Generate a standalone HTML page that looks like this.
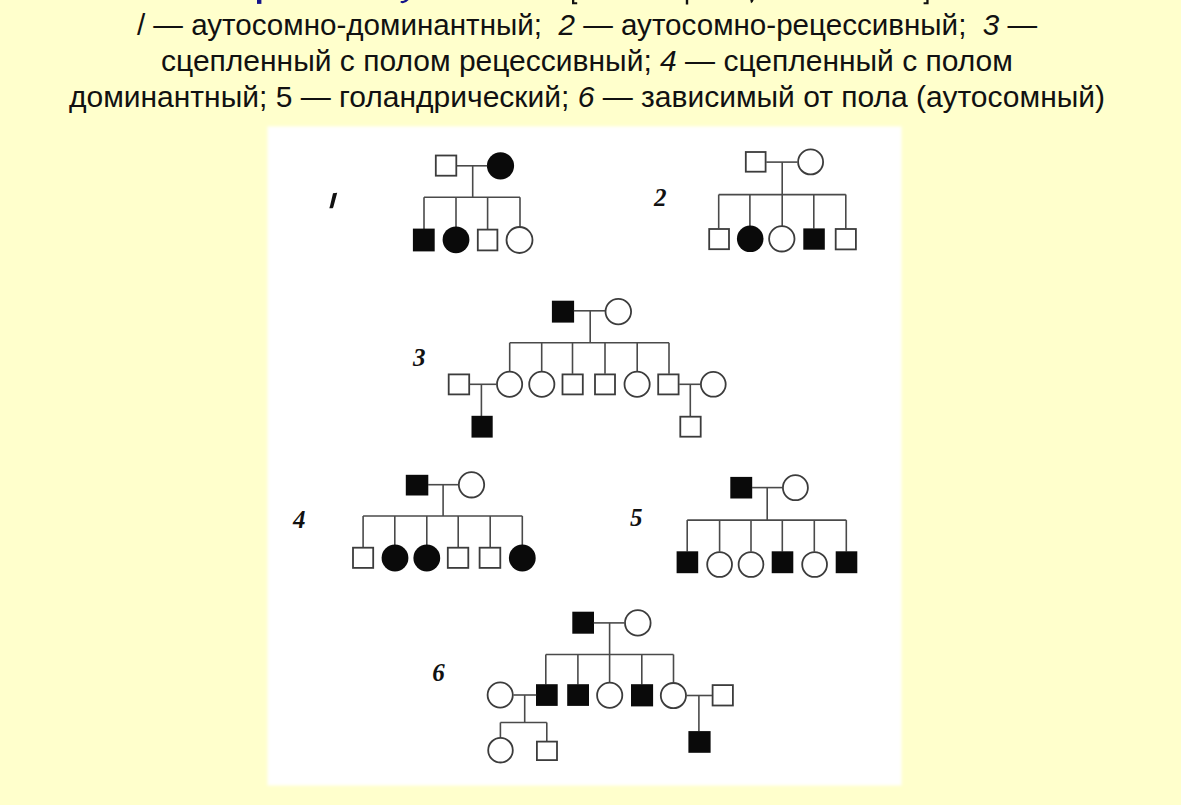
<!DOCTYPE html>
<html><head><meta charset="utf-8"><style>
html,body{margin:0;padding:0;background:#FFFFCC;width:1181px;height:805px;overflow:hidden}
svg{display:block}
.t{font-family:"Liberation Sans",sans-serif;font-size:30px;fill:#111;white-space:pre}
.i{font-style:italic}
.lab{font-family:"Liberation Serif",serif;font-size:25px;font-weight:bold;font-style:italic;fill:#111}
.blue{font-family:"Liberation Sans",sans-serif;font-size:30px;font-weight:bold;fill:#000099}
</style></head><body>
<svg width="1181" height="805" viewBox="0 0 1181 805">
<rect x="0" y="0" width="1181" height="805" fill="#FFFFCC"/>
<text class="t" xml:space="preserve" x="587" y="34.5" text-anchor="middle" style="font-size:29.6px">/ — аутосомно-доминантный;  <tspan class="i">2</tspan> — аутосомно-рецессивный;  <tspan class="i">3</tspan> —</text>
<text class="t" xml:space="preserve" x="587" y="70.5" text-anchor="middle">сцепленный с полом рецессивный; <tspan class="i">4</tspan> — сцепленный с полом</text>
<text class="t" xml:space="preserve" x="587" y="106.8" text-anchor="middle">доминантный; 5 — голандрический; <tspan class="i">6</tspan> — зависимый от пола (аутосомный)</text>
<defs><filter id="bl" x="-5%" y="-5%" width="110%" height="110%"><feGaussianBlur stdDeviation="1.8"/></filter></defs>
<rect x="267.5" y="126.4" width="634" height="659.1" fill="#ffffff" filter="url(#bl)"/>
<rect x="435.80" y="155.50" width="20.50" height="20.20" fill="none" stroke="#3c3c3c" stroke-width="1.8"/>
<circle cx="500.5" cy="165.8" r="13.60" fill="#0a0a0a"/>
<line x1="456.9" y1="165.8" x2="487.2" y2="165.8" stroke="#4a4a4a" stroke-width="1.6"/>
<line x1="472.7" y1="165.8" x2="472.7" y2="197.3" stroke="#4a4a4a" stroke-width="1.6"/>
<line x1="424.0" y1="197.3" x2="520.0" y2="197.3" stroke="#4a4a4a" stroke-width="1.6"/>
<line x1="424.0" y1="197.3" x2="424.0" y2="229.0" stroke="#4a4a4a" stroke-width="1.6"/>
<line x1="456.0" y1="197.3" x2="456.0" y2="227.0" stroke="#4a4a4a" stroke-width="1.6"/>
<line x1="487.6" y1="197.3" x2="487.6" y2="229.0" stroke="#4a4a4a" stroke-width="1.6"/>
<line x1="520.0" y1="197.3" x2="520.0" y2="227.0" stroke="#4a4a4a" stroke-width="1.6"/>
<rect x="412.9" y="228.6" width="21.8" height="22.8" fill="#0a0a0a"/>
<circle cx="456.0" cy="239.8" r="13.40" fill="#0a0a0a"/>
<rect x="477.80" y="229.60" width="19.60" height="20.80" fill="none" stroke="#3c3c3c" stroke-width="1.8"/>
<circle cx="519.5" cy="240.0" r="13.00" fill="none" stroke="#3c3c3c" stroke-width="1.8"/>
<rect x="745.80" y="152.00" width="19.80" height="19.70" fill="none" stroke="#3c3c3c" stroke-width="1.8"/>
<circle cx="810.6" cy="161.9" r="12.50" fill="none" stroke="#3c3c3c" stroke-width="1.8"/>
<line x1="766.2" y1="162.1" x2="797.5" y2="162.1" stroke="#4a4a4a" stroke-width="1.6"/>
<line x1="782.2" y1="162.1" x2="782.2" y2="194.6" stroke="#4a4a4a" stroke-width="1.6"/>
<line x1="718.7" y1="194.6" x2="845.8" y2="194.6" stroke="#4a4a4a" stroke-width="1.6"/>
<line x1="718.7" y1="194.6" x2="718.7" y2="228.4" stroke="#4a4a4a" stroke-width="1.6"/>
<line x1="749.9" y1="194.6" x2="749.9" y2="226.0" stroke="#4a4a4a" stroke-width="1.6"/>
<line x1="782.2" y1="194.6" x2="782.2" y2="226.0" stroke="#4a4a4a" stroke-width="1.6"/>
<line x1="813.8" y1="194.6" x2="813.8" y2="228.4" stroke="#4a4a4a" stroke-width="1.6"/>
<line x1="845.8" y1="194.6" x2="845.8" y2="228.4" stroke="#4a4a4a" stroke-width="1.6"/>
<rect x="709.20" y="229.00" width="19.80" height="20.20" fill="none" stroke="#3c3c3c" stroke-width="1.8"/>
<circle cx="750.2" cy="238.8" r="13.30" fill="#0a0a0a"/>
<circle cx="781.8" cy="238.8" r="12.70" fill="none" stroke="#3c3c3c" stroke-width="1.8"/>
<rect x="803.3" y="228.4" width="21.5" height="21.3" fill="#0a0a0a"/>
<rect x="835.70" y="229.00" width="20.20" height="20.40" fill="none" stroke="#3c3c3c" stroke-width="1.8"/>
<rect x="551.9" y="300.7" width="22.2" height="21.9" fill="#0a0a0a"/>
<circle cx="618.3" cy="311.6" r="12.80" fill="none" stroke="#3c3c3c" stroke-width="1.8"/>
<line x1="573.8" y1="310.8" x2="605.0" y2="310.8" stroke="#4a4a4a" stroke-width="1.6"/>
<line x1="590.2" y1="310.8" x2="590.2" y2="342.8" stroke="#4a4a4a" stroke-width="1.6"/>
<line x1="509.7" y1="342.8" x2="669.0" y2="342.8" stroke="#4a4a4a" stroke-width="1.6"/>
<line x1="509.7" y1="342.8" x2="509.7" y2="371.2" stroke="#4a4a4a" stroke-width="1.6"/>
<line x1="541.7" y1="342.8" x2="541.7" y2="371.2" stroke="#4a4a4a" stroke-width="1.6"/>
<line x1="572.5" y1="342.8" x2="572.5" y2="373.8" stroke="#4a4a4a" stroke-width="1.6"/>
<line x1="605.0" y1="342.8" x2="605.0" y2="373.8" stroke="#4a4a4a" stroke-width="1.6"/>
<line x1="637.2" y1="342.8" x2="637.2" y2="371.2" stroke="#4a4a4a" stroke-width="1.6"/>
<line x1="669.0" y1="342.8" x2="669.0" y2="373.8" stroke="#4a4a4a" stroke-width="1.6"/>
<circle cx="509.6" cy="384.3" r="12.60" fill="none" stroke="#3c3c3c" stroke-width="1.8"/>
<circle cx="541.8" cy="384.3" r="12.60" fill="none" stroke="#3c3c3c" stroke-width="1.8"/>
<rect x="562.50" y="374.40" width="20.30" height="20.00" fill="none" stroke="#3c3c3c" stroke-width="1.8"/>
<rect x="595.00" y="374.40" width="20.00" height="20.00" fill="none" stroke="#3c3c3c" stroke-width="1.8"/>
<circle cx="637.1" cy="384.3" r="12.60" fill="none" stroke="#3c3c3c" stroke-width="1.8"/>
<rect x="658.20" y="374.40" width="20.40" height="20.00" fill="none" stroke="#3c3c3c" stroke-width="1.8"/>
<rect x="448.70" y="374.40" width="20.50" height="20.00" fill="none" stroke="#3c3c3c" stroke-width="1.8"/>
<line x1="469.8" y1="384.3" x2="496.4" y2="384.3" stroke="#4a4a4a" stroke-width="1.6"/>
<line x1="481.4" y1="384.3" x2="481.4" y2="416.1" stroke="#4a4a4a" stroke-width="1.6"/>
<rect x="471.5" y="415.8" width="21.2" height="21.8" fill="#0a0a0a"/>
<circle cx="713.3" cy="384.3" r="12.40" fill="none" stroke="#3c3c3c" stroke-width="1.8"/>
<line x1="679.2" y1="384.3" x2="700.3" y2="384.3" stroke="#4a4a4a" stroke-width="1.6"/>
<line x1="690.3" y1="384.3" x2="690.3" y2="416.1" stroke="#4a4a4a" stroke-width="1.6"/>
<rect x="680.30" y="416.70" width="20.40" height="20.00" fill="none" stroke="#3c3c3c" stroke-width="1.8"/>
<rect x="405.8" y="474.8" width="22.5" height="20.7" fill="#0a0a0a"/>
<circle cx="471.5" cy="484.8" r="12.70" fill="none" stroke="#3c3c3c" stroke-width="1.8"/>
<line x1="428.0" y1="484.7" x2="458.2" y2="484.7" stroke="#4a4a4a" stroke-width="1.6"/>
<line x1="443.1" y1="484.7" x2="443.1" y2="516.0" stroke="#4a4a4a" stroke-width="1.6"/>
<line x1="363.1" y1="516.0" x2="522.3" y2="516.0" stroke="#4a4a4a" stroke-width="1.6"/>
<line x1="363.1" y1="516.0" x2="363.1" y2="547.1" stroke="#4a4a4a" stroke-width="1.6"/>
<line x1="394.8" y1="516.0" x2="394.8" y2="545.0" stroke="#4a4a4a" stroke-width="1.6"/>
<line x1="426.8" y1="516.0" x2="426.8" y2="545.0" stroke="#4a4a4a" stroke-width="1.6"/>
<line x1="458.2" y1="516.0" x2="458.2" y2="547.1" stroke="#4a4a4a" stroke-width="1.6"/>
<line x1="490.2" y1="516.0" x2="490.2" y2="547.1" stroke="#4a4a4a" stroke-width="1.6"/>
<line x1="522.3" y1="516.0" x2="522.3" y2="545.0" stroke="#4a4a4a" stroke-width="1.6"/>
<rect x="353.00" y="547.70" width="20.20" height="20.20" fill="none" stroke="#3c3c3c" stroke-width="1.8"/>
<circle cx="395.0" cy="558.0" r="13.40" fill="#0a0a0a"/>
<circle cx="426.8" cy="558.0" r="13.40" fill="#0a0a0a"/>
<rect x="447.80" y="547.70" width="20.50" height="20.20" fill="none" stroke="#3c3c3c" stroke-width="1.8"/>
<rect x="479.60" y="547.70" width="20.70" height="20.20" fill="none" stroke="#3c3c3c" stroke-width="1.8"/>
<circle cx="522.3" cy="558.0" r="13.40" fill="#0a0a0a"/>
<rect x="730.3" y="476.9" width="21.9" height="21.6" fill="#0a0a0a"/>
<circle cx="795.4" cy="487.7" r="12.50" fill="none" stroke="#3c3c3c" stroke-width="1.8"/>
<line x1="751.9" y1="487.6" x2="782.3" y2="487.6" stroke="#4a4a4a" stroke-width="1.6"/>
<line x1="767.2" y1="487.6" x2="767.2" y2="520.1" stroke="#4a4a4a" stroke-width="1.6"/>
<line x1="687.2" y1="520.1" x2="846.3" y2="520.1" stroke="#4a4a4a" stroke-width="1.6"/>
<line x1="687.2" y1="520.1" x2="687.2" y2="551.6" stroke="#4a4a4a" stroke-width="1.6"/>
<line x1="719.6" y1="520.1" x2="719.6" y2="551.6" stroke="#4a4a4a" stroke-width="1.6"/>
<line x1="751.0" y1="520.1" x2="751.0" y2="551.6" stroke="#4a4a4a" stroke-width="1.6"/>
<line x1="782.3" y1="520.1" x2="782.3" y2="551.6" stroke="#4a4a4a" stroke-width="1.6"/>
<line x1="814.3" y1="520.1" x2="814.3" y2="551.6" stroke="#4a4a4a" stroke-width="1.6"/>
<line x1="846.3" y1="520.1" x2="846.3" y2="551.6" stroke="#4a4a4a" stroke-width="1.6"/>
<rect x="676.6" y="551.3" width="21.6" height="21.9" fill="#0a0a0a"/>
<circle cx="719.6" cy="564.5" r="12.40" fill="none" stroke="#3c3c3c" stroke-width="1.8"/>
<circle cx="751.0" cy="564.5" r="12.40" fill="none" stroke="#3c3c3c" stroke-width="1.8"/>
<rect x="771.7" y="551.3" width="21.6" height="21.9" fill="#0a0a0a"/>
<circle cx="814.6" cy="564.5" r="12.40" fill="none" stroke="#3c3c3c" stroke-width="1.8"/>
<rect x="835.7" y="551.3" width="21.6" height="21.9" fill="#0a0a0a"/>
<rect x="572.3" y="611.7" width="21.7" height="22.0" fill="#0a0a0a"/>
<circle cx="637.8" cy="622.9" r="12.80" fill="none" stroke="#3c3c3c" stroke-width="1.8"/>
<line x1="593.7" y1="622.9" x2="624.3" y2="622.9" stroke="#4a4a4a" stroke-width="1.6"/>
<line x1="609.6" y1="622.9" x2="609.6" y2="682.0" stroke="#4a4a4a" stroke-width="1.6"/>
<line x1="545.8" y1="654.5" x2="673.5" y2="654.5" stroke="#4a4a4a" stroke-width="1.6"/>
<line x1="545.8" y1="654.5" x2="545.8" y2="684.5" stroke="#4a4a4a" stroke-width="1.6"/>
<line x1="577.9" y1="654.5" x2="577.9" y2="684.5" stroke="#4a4a4a" stroke-width="1.6"/>
<line x1="641.8" y1="654.5" x2="641.8" y2="684.5" stroke="#4a4a4a" stroke-width="1.6"/>
<line x1="673.5" y1="654.5" x2="673.5" y2="682.4" stroke="#4a4a4a" stroke-width="1.6"/>
<rect x="536.0" y="684.2" width="21.7" height="21.7" fill="#0a0a0a"/>
<rect x="567.2" y="684.2" width="21.8" height="21.7" fill="#0a0a0a"/>
<circle cx="609.7" cy="695.2" r="12.60" fill="none" stroke="#3c3c3c" stroke-width="1.8"/>
<rect x="631.0" y="684.2" width="22.1" height="22.2" fill="#0a0a0a"/>
<circle cx="673.4" cy="695.6" r="12.60" fill="none" stroke="#3c3c3c" stroke-width="1.8"/>
<circle cx="500.2" cy="695.0" r="12.60" fill="none" stroke="#3c3c3c" stroke-width="1.8"/>
<line x1="513.4" y1="695.0" x2="536.3" y2="695.0" stroke="#4a4a4a" stroke-width="1.6"/>
<line x1="524.7" y1="695.0" x2="524.7" y2="722.5" stroke="#4a4a4a" stroke-width="1.6"/>
<line x1="500.4" y1="722.5" x2="546.8" y2="722.5" stroke="#4a4a4a" stroke-width="1.6"/>
<line x1="500.4" y1="722.5" x2="500.4" y2="737.3" stroke="#4a4a4a" stroke-width="1.6"/>
<line x1="546.8" y1="722.5" x2="546.8" y2="741.0" stroke="#4a4a4a" stroke-width="1.6"/>
<circle cx="500.5" cy="750.2" r="12.30" fill="none" stroke="#3c3c3c" stroke-width="1.8"/>
<rect x="536.90" y="741.60" width="20.10" height="18.50" fill="none" stroke="#3c3c3c" stroke-width="1.8"/>
<rect x="712.60" y="685.10" width="20.30" height="20.40" fill="none" stroke="#3c3c3c" stroke-width="1.8"/>
<line x1="686.6" y1="695.5" x2="712.0" y2="695.5" stroke="#4a4a4a" stroke-width="1.6"/>
<line x1="698.9" y1="695.5" x2="698.9" y2="731.4" stroke="#4a4a4a" stroke-width="1.6"/>
<rect x="688.4" y="731.1" width="22.2" height="21.7" fill="#0a0a0a"/>
<text x="654" y="206" class="lab">2</text>
<text x="413" y="366" class="lab">3</text>
<text x="293" y="527.6" class="lab">4</text>
<text x="630" y="525.6" class="lab">5</text>
<text x="432.3" y="681" class="lab">6</text>
<path d="M333,193.2 L337.2,192.7 L333.3,207.2 L332.6,208.2 L329.3,208.2 L330,206 Z" fill="#111"/>
<g fill="#14148a">
<rect x="257" y="0" width="4.4" height="3.9"/>
<path d="M400.5,2.6 Q404,4.8 408.6,0 L405,0 Q403.5,1.6 400.8,0.9 Z"/>
</g>
<g fill="#111">
<path d="M572,0 L574.3,0 L574.3,2.2 L577.2,2.2 L577.2,4.2 L572,4.2 Z"/>
<rect x="685.8" y="0" width="2.4" height="4.5"/>
<path d="M750.3,0 L753.6,0 Q753,2.5 751,3.2 Z"/>
<path d="M926.3,0 L928.6,0 L928.6,4.2 L923.6,4.2 L923.6,2.2 L926.3,2.2 Z"/>
</g>
</svg>
</body></html>
